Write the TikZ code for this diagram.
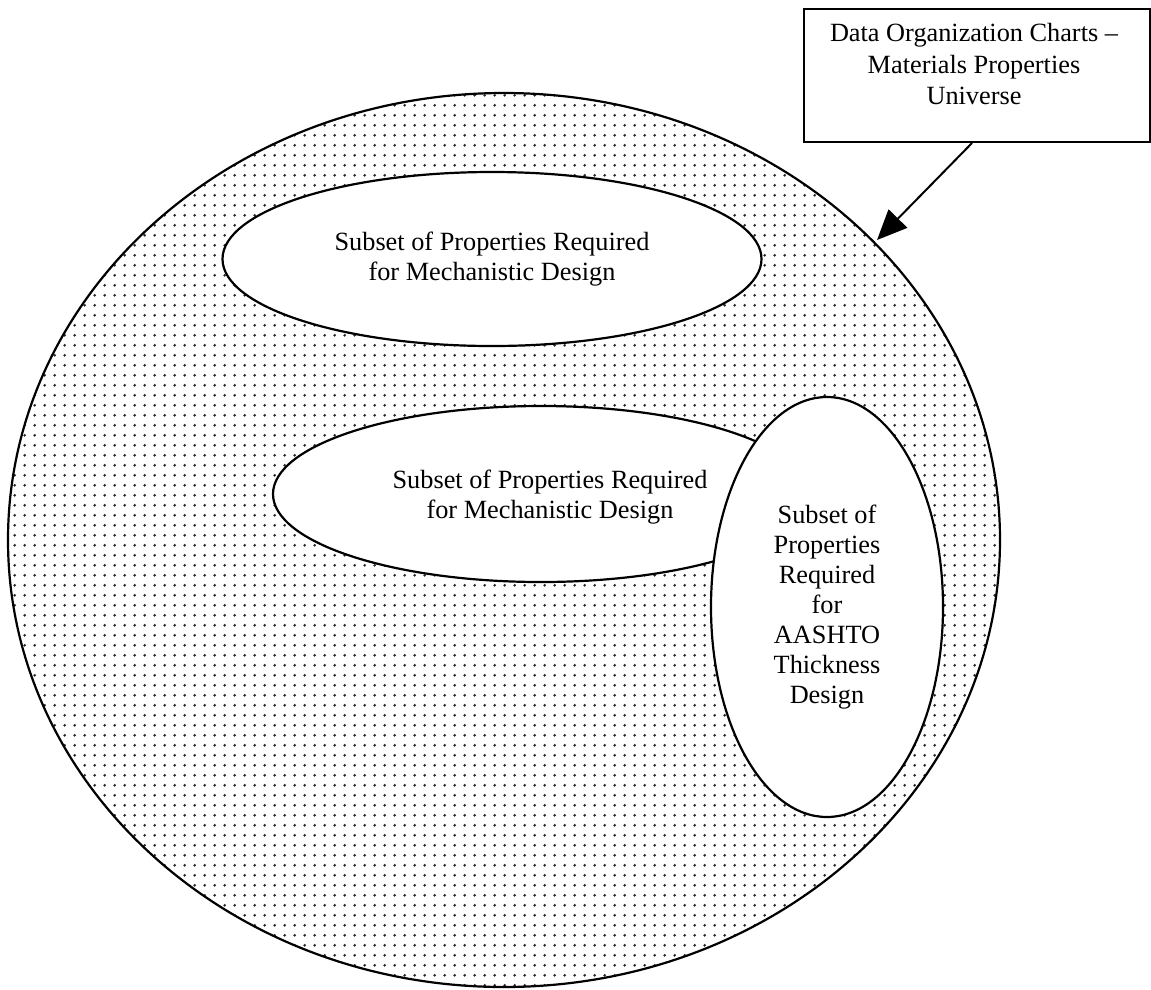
\documentclass[tikz,border=0pt]{standalone}
\usepackage{fontspec}
\setmainfont{Liberation Serif}
\usetikzlibrary{shapes.geometric,arrows.meta,patterns.meta}

% fine grid of small dots used as the shading of the universe set
\tikzdeclarepattern{
  name=griddots,
  type=uncolored,
  bounding box={(0pt,0pt) and (10.2pt,10.2pt)},
  tile size={(10.2pt,10.2pt)},
  code={\fill (5.1pt,5.1pt) circle (1.6pt);}
}

\tikzset{
  setline/.style={draw=black, line width=2.2pt},
  subset/.style={setline, ellipse, fill=white, inner sep=0pt, align=center,
                 font=\fontsize{26.3}{30}\selectfont},
  labelbox/.style={draw=black, line width=2pt, rectangle, inner sep=0pt},
  labeltext/.style={align=center, font=\fontsize{26.3}{31.5}\selectfont},
  pointer/.style={draw=black, line width=2pt, -{Triangle[length=30pt,width=26pt]}}
}

\begin{document}
\begin{tikzpicture}[x=1pt,y=-1pt]
\useasboundingbox (0,0) rectangle (1151,989);

% universe of material properties
\node[setline, ellipse, inner sep=0pt, minimum width=992pt, minimum height=894pt,
      pattern=griddots, pattern color=black!85] (universe) at (504,540) {};

% subsets
\node[subset, minimum width=539pt, minimum height=174pt] (mechA) at (492,259)
  {Subset of Properties Required\\for Mechanistic Design};
\node[subset, minimum width=536pt, minimum height=176pt] (mechB) at (541,494) {};
\node[align=center, font=\fontsize{26.3}{30}\selectfont] (mechBtext) at (550,497)
  {Subset of Properties Required\\for Mechanistic Design};
\node[subset, minimum width=232pt, minimum height=420pt] (aashto) at (827,607)
  {Subset of\\Properties\\Required\\for\\AASHTO\\Thickness\\Design};

% chart title box and its pointer
\node[labelbox, minimum width=346pt, minimum height=133pt] (title) at (977,75.5) {};
\node[labeltext] (titletext) at (974,64)
  {Data Organization Charts --\\Materials Properties\\Universe};
\coordinate (tip) at (877,240);
\draw[pointer] ([xshift=-5pt]title.south) -- (tip);
\end{tikzpicture}
\end{document}
